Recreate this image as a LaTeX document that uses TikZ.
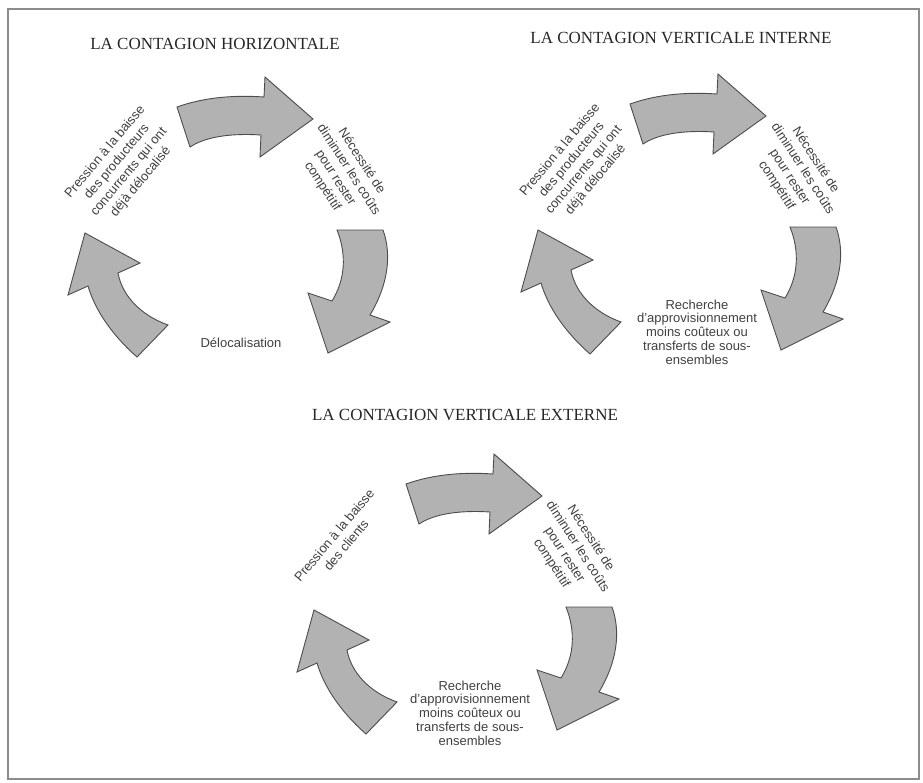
\documentclass[tikz,border=0pt]{standalone}
\usepackage{fontspec}
\setmainfont{Liberation Serif}
\setsansfont{Liberation Sans}

\begin{document}
\begin{tikzpicture}[
		x=1pt, y=-1pt,
		fleche/.style={fill=black!30, draw=black!70, line width=0.9pt},
		titre/.style={font=\fontsize{17}{20}\selectfont, text=black!85, inner sep=0pt},
		etiquette/.style={font=\sffamily\fontsize{13}{13.8}\selectfont, text=black!75, align=center, inner sep=0pt},
		oblique/.style={etiquette, font=\sffamily\fontsize{13}{15.5}\selectfont, rotate=#1}
		]
		\useasboundingbox (0,0) rectangle (923,782);
		\draw[black!45, line width=1.2pt] (8,9) rectangle (919,779);
		\foreach \dx/\dy in {0/0, 453/-3, 229/377} {
			\begin{scope}[shift={(\dx,\dy)}]
				\draw[fleche] (177,107) .. controls (205,97) and (235,95) .. (264,97)
				-- (265,77) -- (313,119) -- (260,157) -- (261,135)
				.. controls (230,133) and (205,137) .. (190,147) -- cycle;
				\draw[fleche] (337,230) -- (383,230) .. controls (392,255) and (388,285) .. (370,315)
				-- (390,322) -- (328,353) -- (308,293) -- (332,301)
				.. controls (345,280) and (347,255) .. (337,230) -- cycle;
				\draw[fleche] (137,357) .. controls (112,335) and (95,310) .. (88,286)
				-- (68,295) -- (85,233) -- (140,263) -- (118,273)
				.. controls (122,295) and (140,315) .. (168,325) -- cycle;
			\end{scope}
		}
		\node[titre] (titreH) at (215,44) {LA CONTAGION HORIZONTALE};
		\node[titre] (titreVI) at (681,38) {LA CONTAGION VERTICALE INTERNE};
		\node[titre] (titreVE) at (465,415) {LA CONTAGION VERTICALE EXTERNE};
		
		\node[oblique=50] (pressionH) at (123,167) {Pression à la baisse\\des producteurs\\concurrents qui ont\\déjà délocalisé};
		\node[oblique=-57] (necessiteH) at (342,174) {Nécessité de\\diminuer les coûts\\pour rester\\compétitif};
		\node[etiquette] (delocH) at (241,343) {Délocalisation};
		
		\node[oblique=50] (pressionVI) at (578,165) {Pression à la baisse\\des producteurs\\concurrents qui ont\\déjà délocalisé};
		\node[oblique=-57] (necessiteVI) at (796,173) {Nécessité de\\diminuer les coûts\\pour rester\\compétitif};
		\node[etiquette] (rechercheVI) at (697,332) {Recherche\\d'approvisionnement\\moins coûteux ou\\transferts de sous-\\ensembles};
		
		\node[oblique=50] (pressionVE) at (340,540) {Pression à la baisse\\des clients};
		\node[oblique=-57] (necessiteVE) at (571,551) {Nécessité de\\diminuer les coûts\\pour rester\\compétitif};
		\node[etiquette] (rechercheVE) at (470,713) {Recherche\\d'approvisionnement\\moins coûteux ou\\transferts de sous-\\ensembles};
	\end{tikzpicture}
\end{document}
